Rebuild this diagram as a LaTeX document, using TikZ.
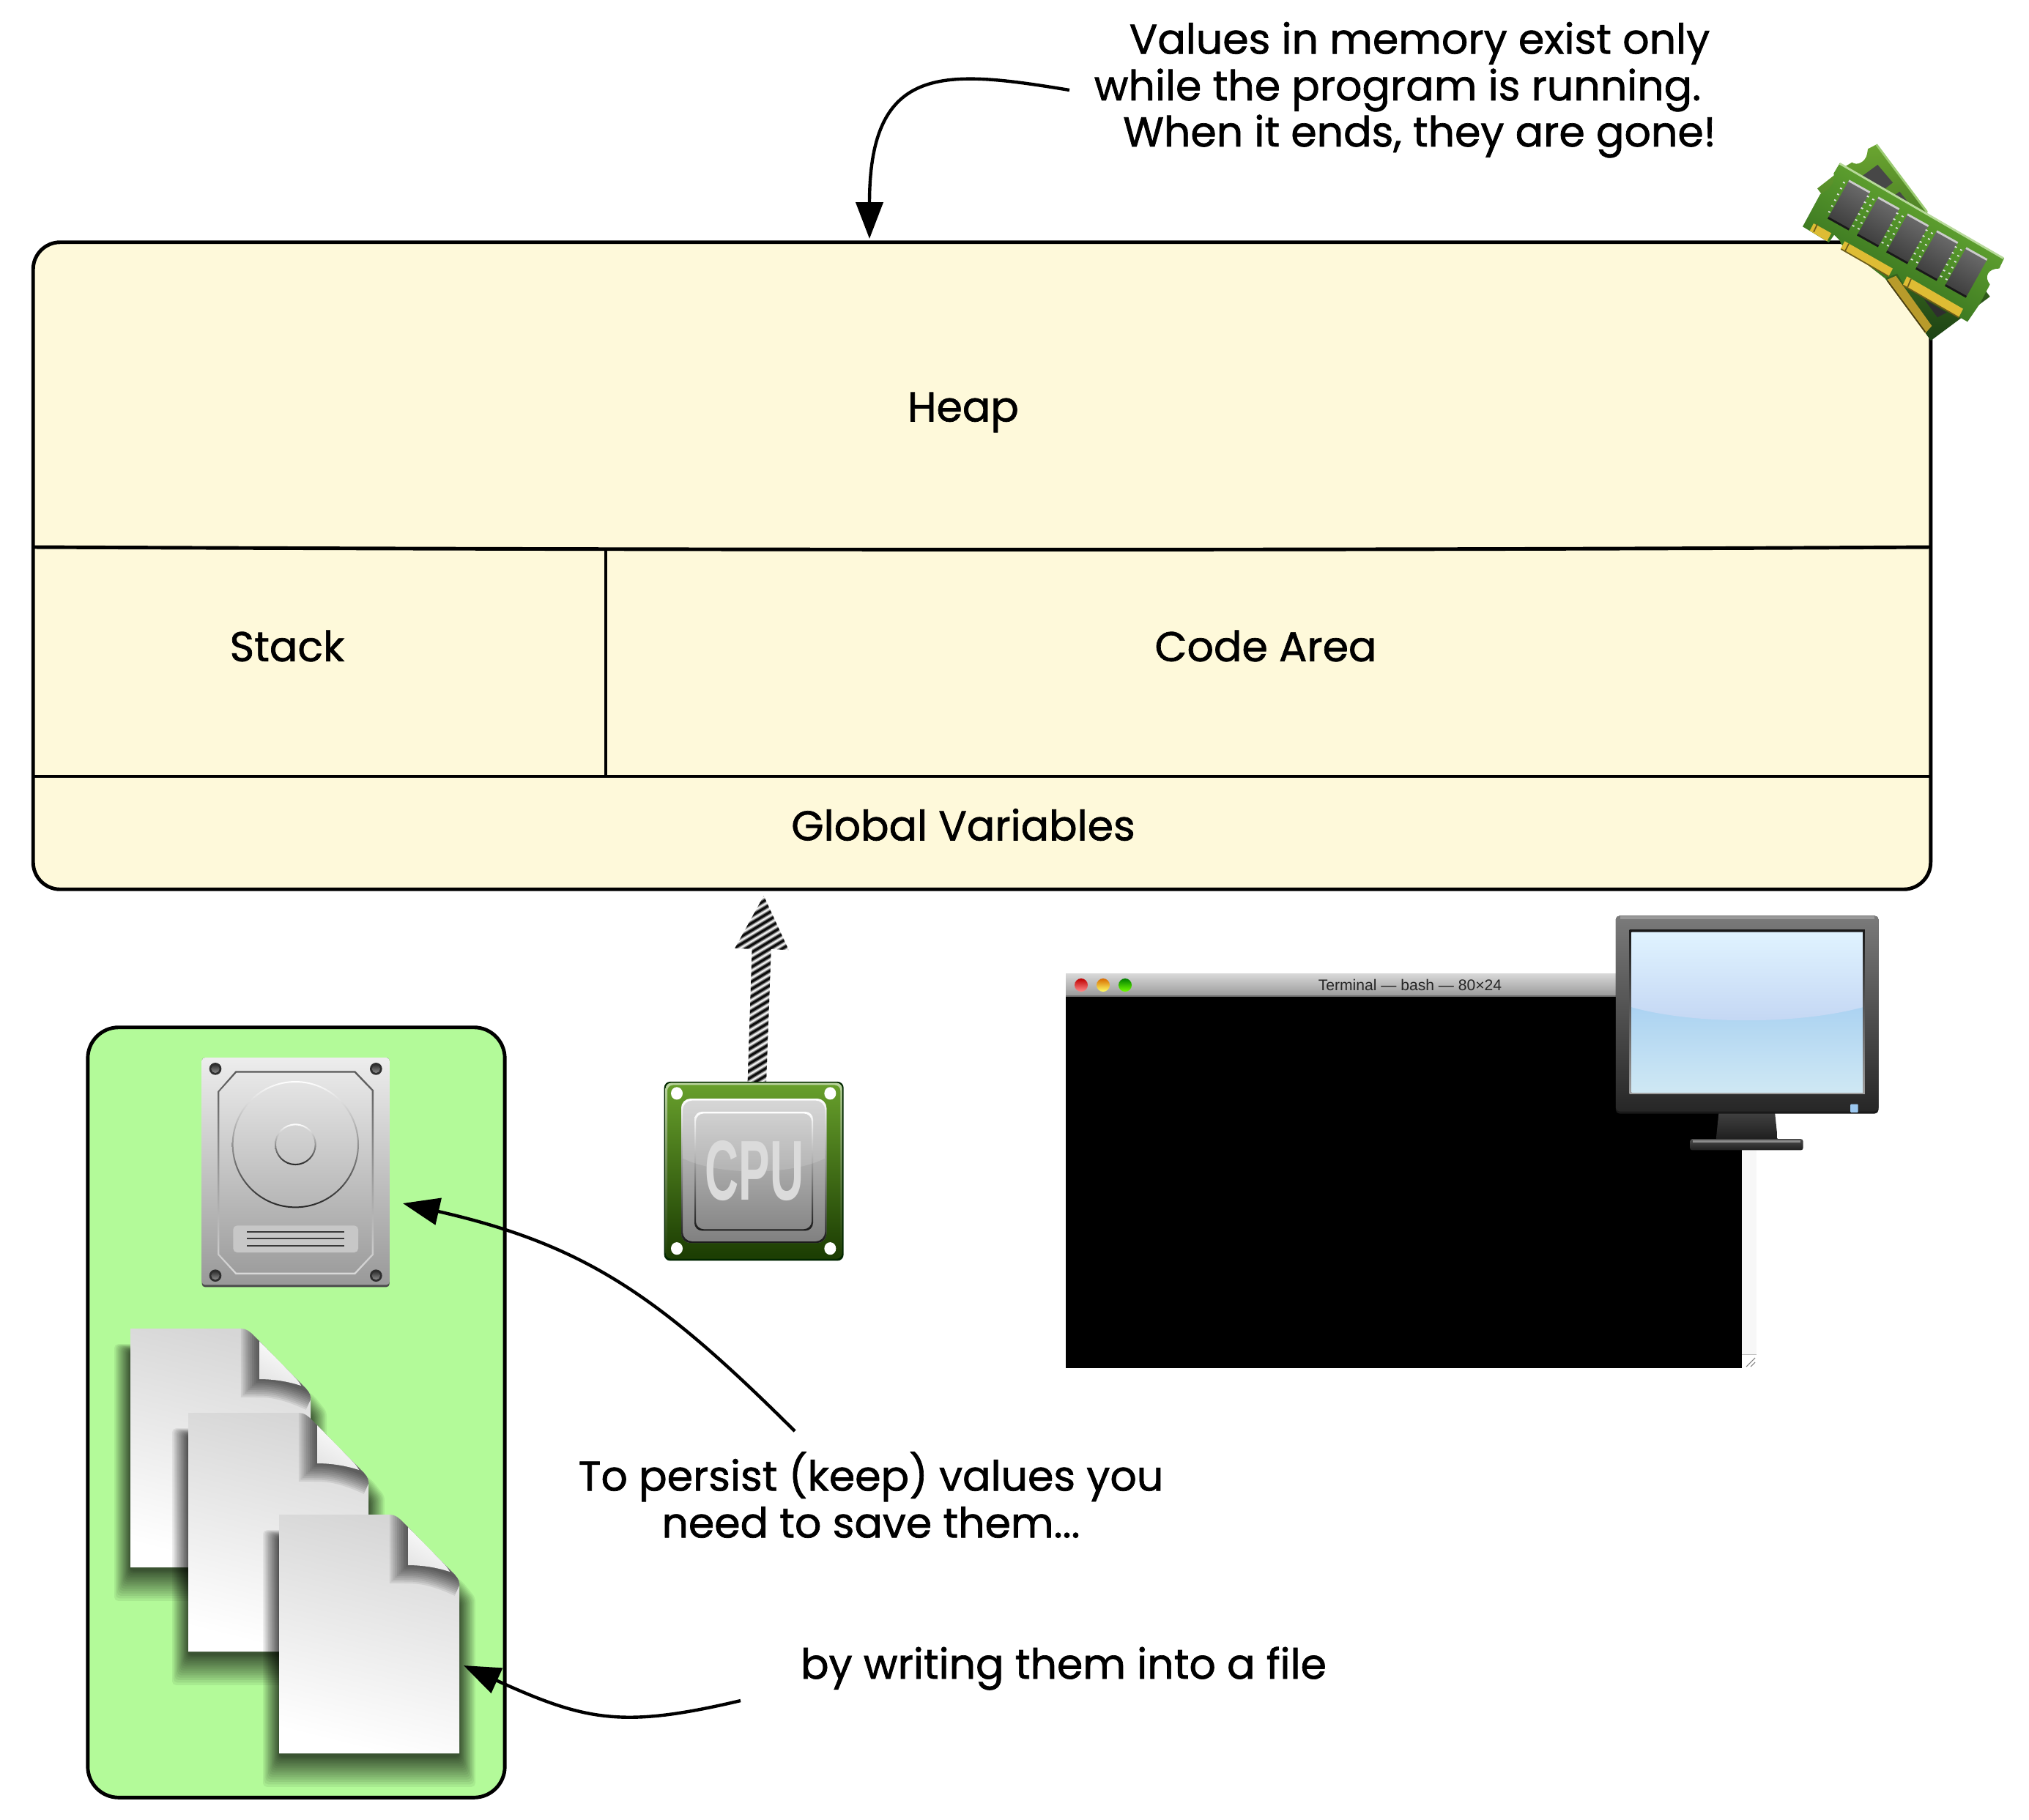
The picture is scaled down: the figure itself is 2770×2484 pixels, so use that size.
\documentclass[tikz,border=0pt]{standalone}
\usepackage{fontspec}
\setmainfont[FakeBold=1.2]{Poppins}
\newfontfamily\termfont{Liberation Sans}
\usetikzlibrary{arrows.meta}
\definecolor{memfill}{RGB}{254,249,218}
\definecolor{diskbg}{RGB}{179,250,153}
\definecolor{ramlight}{RGB}{112,180,54}
\definecolor{ramdark}{RGB}{42,100,26}
\definecolor{backlight}{RGB}{106,165,48}
\definecolor{backdark}{RGB}{28,66,20}
\definecolor{gold}{RGB}{222,188,52}
\definecolor{golddark}{RGB}{184,155,43}
\definecolor{cputop}{RGB}{104,160,44}
\definecolor{cpubot}{RGB}{27,60,2}
\tikzset{
  label text/.style={font=\fontsize{16.2}{18.2}\selectfont, inner sep=0pt, text=black},
  conn/.style={line width=1.25pt, -{Triangle[length=14.2pt,width=10.5pt]}},
  partline/.style={line width=1.4pt},
}
\newcommand{\filepath}{(0,0) -- (151,0) .. controls (158,0) and (163,4) .. (168,9) -- (236,78) .. controls (242,84) and (246,89) .. (246,94) -- (246,326) -- (0,326) -- cycle}
\newcommand{\docicon}[2]{%
  \begin{scope}[shift={(#1,#2)}]
    \foreach \i in {1,...,16} {
      \pgfmathsetmacro{\d}{22*pow(\i/16,1.35)}
      \fill[black, opacity=.062, rounded corners=1.5pt]
        (-\d,30-\d*.4) -- (150+\d*.3,30-\d*.4) -- (236+\d*.7,108-\d*.7) -- (246+\d,120-\d*.3) -- (246+\d,330+1.9*\d) -- (-\d,330+1.9*\d) -- cycle;
    }
    \shade[top color=black!16, middle color=black!6, bottom color=white, shading angle=-14] \filepath;
    \begin{scope}
      \clip \filepath;
      \foreach \w in {5,10,...,50} {\draw[black, opacity=.08, line width=\w*.2845pt] (176,-10) -- (176,69) .. controls (195,69) and (215,72) .. (250,88);}
    \end{scope}
    \shade[top color=white, bottom color=black!10, shading angle=-30] (176,17) -- (224,66) .. controls (228,70) and (231,74) .. (233,78) .. controls (215,72) and (195,69) .. (176,69) -- cycle;
  \end{scope}}
\begin{document}
\begin{tikzpicture}[x=.01cm, y=-.01cm]
\useasboundingbox (0,0) rectangle (2770,2484);
\fill[white] (0,0) rectangle (2770,2484);

% memory block
\node[draw, fill=memfill, line width=1.4pt, rounded corners=10.5pt, minimum width=25.89cm, minimum height=8.83cm, inner sep=0pt] (mem) at (1340.5,772.5) {};
\coordinate (heapL) at (46,747);
\coordinate (heapR) at (2635,747);
\coordinate (heapM) at (827,749);
\coordinate (globL) at (46,1060);
\coordinate (globR) at (2635,1060);
\coordinate (globM) at (827,1060);
\draw[partline] (heapL) .. controls (900,751) and (1800,752) .. (heapR);
\draw[partline] (heapM) -- (globM);
\draw[partline] (globL) -- (globR);
\node[label text] (heap) at (1315,563) {Heap};
\node[label text] (stack) at (392,882) {Stack};
\node[label text] (code) at (1728,882) {Code Area};
\node[label text] (glob) at (1315,1126) {Global Variables};

% callout
\node[label text] (call1) at (1938,59) {Values in memory exist only};
\node[label text] (call2) at (1908,123) {while the program is running.};
\node[label text] (call3) at (1938,186) {When it ends, they are gone!};
\coordinate (callS) at (1460,123);
\coordinate (memT) at (1187,326);
\draw[conn] (callS) .. controls (1290,95) and (1187,85) .. (memT);

% RAM
\begin{scope}[shift={(2400,170)}, x=.01cm/3, y=-.01cm/3]
  \shade[top color=backlight, bottom color=backdark] (485,82) -- (950,705) -- (708,885) -- (520,630) -- (243,262) -- (360,170) -- (385,155) .. controls (405,170) and (440,155) .. (447,120) -- (450,100) -- cycle;
  \draw[line width=.8pt, color=ramlight!70!white] (485,82) -- (692,358);
  \fill[black!72] (490,165) -- (552,238) -- (440,325) -- (380,245) -- cycle;
  \fill[black!72] (580,275) -- (620,325) -- (560,360) -- (530,310) -- cycle;
  \fill[black!82] (680,715) -- (772,770) -- (735,790) -- cycle;
  \fill[golddark] (530,635) -- (565,620) -- (712,825) -- (685,855) -- cycle;
  \draw[line width=.5pt, color=black!60!golddark] (530,640) -- (685,850);
  \shade[top color=ramlight, bottom color=ramdark, shading angle=-30] (335,158) -- (1008,548) -- (988,590) .. controls (940,590) and (925,625) .. (950,655) -- (908,735) -- (858,808) -- (600,660) -- (570,610) -- (520,630) -- (340,490) -- (335,475) -- (312,452) -- (290,483) -- (183,418) -- (255,285) .. controls (290,270) and (320,240) .. (310,200) -- cycle;
  \draw[line width=.8pt, color=ramlight!50!white] (335,160) -- (1005,548);
  \foreach \i in {0,...,4} {
    \pgfmathsetmacro{\ax}{372+\i*120}
    \pgfmathsetmacro{\ay}{230+\i*69}
    \shade[top color=black!58, bottom color=black!76, shading angle=-30] (\ax,\ay) -- ++(86,48) -- ++(-85,152) -- ++(-86,-48) -- cycle;
    \draw[line width=.8pt, black!20] (\ax,\ay) -- ++(86,48);
    \draw[line width=.8pt, black!90] (\ax-85,\ay+152) -- ++(86,48);
    \foreach \k in {0,...,5} {
      \draw[line width=.5pt, black!12] (\ax-24-\k*12,\ay+6+\k*24) -- ++(8,4);
      \ifnum\i>0 \draw[line width=.5pt, black!12] (\ax-46-\k*12,\ay-6+\k*24) -- ++(8,4); \fi
    }
  }
  \fill[gold] (228,405) -- (300,445) -- (283,478) -- (212,435) -- cycle;
  \fill[gold] (355,478) -- (552,590) -- (535,622) -- (338,510) -- cycle;
  \fill[gold] (610,622) -- (840,755) -- (822,790) -- (593,658) -- cycle;
  \draw[line width=.5pt, color=golddark!60!black] (593,658) -- (822,790);
  \draw[line width=.5pt, color=golddark!60!black] (340,510) -- (535,622);
  \draw[line width=.5pt, color=golddark!60!black] (243,408) -- (228,440);
  \draw[line width=.5pt, color=golddark!60!black] (372,488) -- (357,518);
  \draw[line width=.5pt, color=golddark!60!black] (627,632) -- (612,668);
\end{scope}

% disk area
\node[draw, fill=diskbg, line width=1.4pt, rounded corners=12pt, minimum width=5.69cm, minimum height=10.51cm, inner sep=0pt] (store) at (404.5,1928.5) {};

% hard disk
\begin{scope}[shift={(240,1420)}, x=.01cm/3, y=-.01cm/3]
  \fill[rounded corners=1.2pt, black!70] (107,72) rectangle (875,1012);
  \shade[rounded corners=1.2pt, top color=black!7, bottom color=black!40] (107,72) rectangle (875,1003);
  \shade[even odd rule, top color=black!65, bottom color=white!85!black]
     (172,210) -- (245,127) -- (735,127) -- (810,205) -- (810,880) -- (735,960) -- (245,960) -- (172,880) -- cycle
     (178,212) -- (248,134) -- (732,134) -- (803,208) -- (803,877) -- (732,953) -- (248,953) -- (178,877) -- cycle;
  \shade[even odd rule, top color=white, bottom color=black!85] (490,428) circle (260) (490,428) circle (254);
  \shade[even odd rule, top color=white, bottom color=black!85] (490,428) circle (85) (490,428) circle (79);
  \fill[rounded corners=1.5pt, black!22] (235,760) rectangle (747,870);
  \foreach \yy in {786,814,843} {\draw[line width=.55pt, black!78] (291,\yy) -- (690,\yy);}
  \foreach \xx/\yy in {162/118, 820/118, 162/965, 820/965} {
    \fill[black!82] (\xx,\yy) circle (25);
    \shade[top color=black!80, bottom color=black!45] (\xx,\yy) circle (17);
  }
\end{scope}

% files
\docicon{178}{1814}
\docicon{257}{1929}
\docicon{381}{2068}

% CPU
\begin{scope}[shift={(880,1200)}, x=.01cm/3, y=-.01cm/2.8]
  \coordinate (sb1) at (422,775);
  \coordinate (sb2) at (498,775);
  \coordinate (sn1) at (440,268);
  \coordinate (sn2) at (518,268);
  \coordinate (sh1) at (370,265);
  \coordinate (sh2) at (590,272);
  \coordinate (stip) at (488,65);
  \fill[rounded corners=2.4pt, black!85!green] (80,775) rectangle (815,1460);
  \shade[rounded corners=2.2pt, top color=cputop, bottom color=cpubot] (86,780) rectangle (809,1452);
  \shade[even odd rule, rounded corners=2.2pt, top color=cputop!45!white, bottom color=cpubot] (86,780) rectangle (809,1452) (93,788) rectangle (802,1445);
  \foreach \xx/\yy in {132/820, 760/820, 132/1413, 760/1413} {\fill[white] (\xx,\yy) ellipse (24 and 24);}
  \shade[rounded corners=3.7pt, top color=black!18, bottom color=black!50] (150,840) rectangle (745,1392);
  \shade[even odd rule, rounded corners=3.7pt, top color=white, bottom color=black!90] (150,840) rectangle (745,1392) (156,847) rectangle (739,1386);
  \shade[even odd rule, rounded corners=3pt, top color=white, bottom color=black!90] (204,890) rectangle (690,1345) (210,897) rectangle (684,1339);
  \begin{scope}
    \clip[rounded corners=3.7pt] (156,847) rectangle (739,1386);
    \fill[white, opacity=.14] (156,847) -- (739,847) -- (739,1068) .. controls (600,1135) and (300,1135) .. (156,1068) -- cycle;
  \end{scope}
  \node[font=\termfont\bfseries\fontsize{33}{33}\selectfont, text=black!14, xscale=.55, inner sep=0pt] (cpulabel) at (450,1117) {CPU};
\end{scope}

% striped arrow
\begin{scope}
  \clip (sb1) -- (sn1) -- (sh1) -- (stip) -- (sh2) -- (sn2) -- (sb2) -- cycle;
  \fill[white] (990,1215) rectangle (1090,1480);
  \foreach \yy in {1235,1245,...,1565} {
    \draw[line width=2.1pt, black!22] (985,\yy) -- (1095,\yy-66);
    \draw[line width=1.5pt, black!55] (985,\yy) -- (1095,\yy-66);
    \draw[line width=.85pt, black!95] (985,\yy) -- (1095,\yy-66);
  }
\end{scope}

% terminal
\node[fill=black, minimum width=9.23cm, minimum height=5.08cm, inner sep=0pt, outer sep=0pt] (term) at (1916.5,1614) {};
\shade[top color=black!15, bottom color=black!40] (1455,1329) rectangle (2378,1360);
\draw[line width=.4pt, black!55] (1455,1360) -- (2378,1360);
\fill[black!3] (2378,1360) rectangle (2398,1849);
\draw[line width=.3pt, black!25] (2378,1849) -- (2398,1849);
\foreach \d in {0,6,12} {\draw[line width=.3pt, black!50] (2384+\d,1866) -- (2396,1854+\d);}
\node[font=\termfont\fontsize{6}{7}\selectfont, text=black!85, inner sep=0pt] (termtitle) at (1925,1345) {Terminal — bash — 80×24};
\shade[top color=red!75!black, bottom color=red!45!white] (1476,1345) circle (9);
\shade[top color=orange!85!black, bottom color=yellow!60!white] (1506,1345) circle (9);
\shade[top color=green!50!black, bottom color=green!55!yellow] (1536,1345) circle (9);

% monitor
\begin{scope}[shift={(1440,1230)}, x=.01cm/1.329, y=-.01cm/2.306]
  \shade[top color=black!75, bottom color=black!88] (1205,668) -- (1307,668) -- (1312,752) -- (1200,752) -- cycle;
  \shade[top color=black!70, bottom color=black!88, rounded corners=.8pt] (1153,750) rectangle (1358,785);
  \draw[line width=.8pt, black!45] (1158,757) -- (1353,757);
  \fill[rounded corners=1.5pt, black!90] (1018,47) rectangle (1495,670);
  \shade[rounded corners=1.5pt, top color=black!52, bottom color=black!85] (1018,47) rectangle (1495,663);
  \draw[line width=1pt, black!40] (1026,53) -- (1487,53);
  \shade[top color=black!90, bottom color=black!38] (1043,92) rectangle (1470,608);
  \shade[top color={rgb,255:red,167;green,208;blue,242}, bottom color={rgb,255:red,207;green,232;blue,243}] (1047,300) rectangle (1466,603);
  \shade[top color={rgb,255:red,224;green,243;blue,255}, bottom color={rgb,255:red,195;green,214;blue,243}] (1047,98) -- (1466,98) -- (1466,335) .. controls (1350,390) and (1160,390) .. (1047,335) -- cycle;
  \fill[rounded corners=.3pt, color={rgb,255:red,156;green,200;blue,240}] (1444,640) rectangle (1458,666);
\end{scope}

% persist notes
\node[label text, align=center] (persist) at (1189,2041) {To persist (keep) values you\\need to save them...};
\node[label text] (write) at (1452,2278) {by writing them into a file};
\coordinate (persistS) at (1085,1954);
\coordinate (diskT) at (550,1643);
\coordinate (writeS) at (1011,2322);
\coordinate (fileT) at (633,2274);
\draw[conn] (persistS) .. controls (900,1770) and (800,1700) .. (diskT);
\draw[conn] (writeS) .. controls (850,2360) and (800,2350) .. (fileT);
\end{tikzpicture}
\end{document}
